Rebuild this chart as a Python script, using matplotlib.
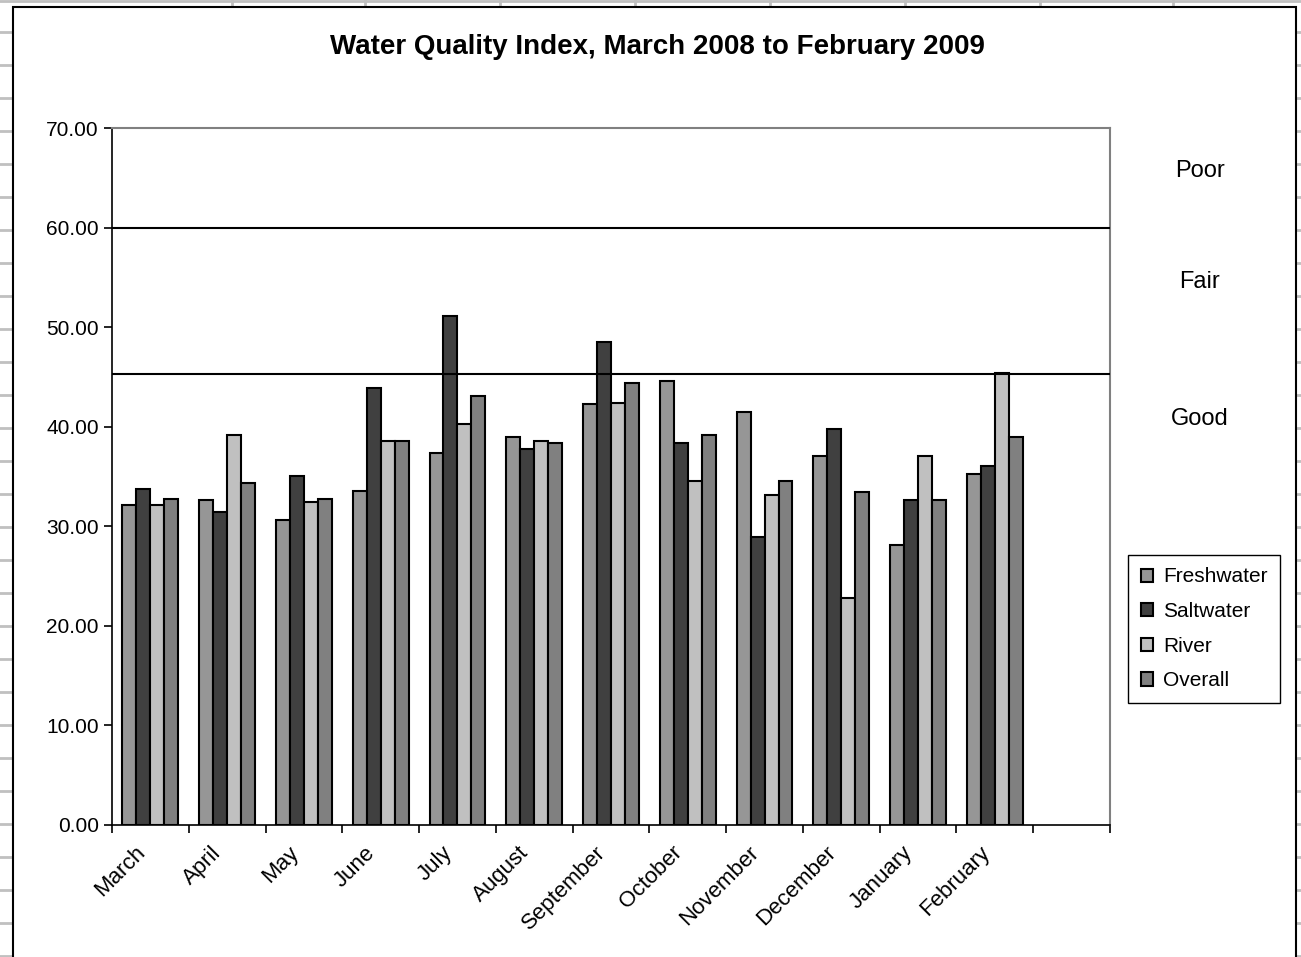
""" Water Quality Index, March 2008 to February 2009 - grouped bar chart """

import matplotlib
matplotlib.use("Agg")
import matplotlib.pyplot as plt
import matplotlib.transforms as mtransforms
from matplotlib.lines import Line2D
from matplotlib.patches import Rectangle
import numpy

plt.rcParams['font.family'] = ['Liberation Sans', 'DejaVu Sans']

months = ['March', 'April', 'May', 'June', 'July', 'August', 'September',
          'October', 'November', 'December', 'January', 'February']
freshwater = [32.1, 32.6, 30.6, 33.5, 37.4, 39.0, 42.3, 44.6, 41.5, 37.1, 28.1, 35.3]
saltwater = [33.7, 31.4, 35.1, 43.9, 51.1, 37.8, 48.5, 38.4, 28.9, 39.8, 32.6, 36.1]
river = [32.1, 39.2, 32.4, 38.6, 40.3, 38.6, 42.4, 34.5, 33.1, 22.8, 37.1, 45.4]
overall = [32.7, 34.3, 32.7, 38.6, 43.1, 38.4, 44.4, 39.2, 34.5, 33.4, 32.6, 39.0]
series_names = ['Freshwater', 'Saltwater', 'River', 'Overall']
series_colors = ['#969696', '#404040', '#c0c0c0', '#808080']
thresholds = [60.0, 45.3]
zones = ['Poor', 'Fair', 'Good']
zone_levels = [65.7, 54.5, 40.8]

W, H = 1301, 957


def fx(px):
    return px / W


def fy(py):
    return 1 - py / H


fig = plt.figure(figsize=(13.01, 9.57), dpi=100)

# spreadsheet grid peeking out around the chart area
grid_col = '#c0c0c0'
for y in range(32, 957, 33):
    fig.add_artist(Line2D([fx(0), fx(13)], [fy(y), fy(y)], color=grid_col, lw=2, zorder=-20))
    fig.add_artist(Line2D([fx(1296), fx(1301)], [fy(y), fy(y)], color=grid_col, lw=2, zorder=-20))
for x in [232, 365, 500, 635, 770, 905, 1040, 1173]:
    fig.add_artist(Line2D([fx(x), fx(x)], [fy(0), fy(7)], color=grid_col, lw=2, zorder=-20))
fig.add_artist(Line2D([fx(0), fx(1301)], [fy(1), fy(1)], color=grid_col, lw=2, zorder=-20))
fig.add_artist(Rectangle((fx(13), fy(960)), fx(1296) - fx(13), fy(7) - fy(960),
                         transform=fig.transFigure, facecolor='white',
                         edgecolor='black', lw=1.5, zorder=-10))

ax = fig.add_axes([fx(112), fy(825), fx(1110) - fx(112), fy(128) - fy(825)])

x = numpy.arange(len(months))
width = 0.182
all_series = [freshwater, saltwater, river, overall]
bars = []
for k in range(4):
    b = ax.bar(x + (k - 1.5) * width, all_series[k], width,
               color=series_colors[k], edgecolor='black', linewidth=1.5,
               label=series_names[k], zorder=2)
    bars.append(b)

for t in thresholds:
    ax.axhline(t, color='black', lw=1.5, zorder=3)

ax.set_xlim(-0.5, 12.5)
ax.set_ylim(0, 70)
ax.set_yticks(numpy.arange(0, 71, 10))
ax.set_yticklabels(['%.2f' % v for v in numpy.arange(0, 71, 10)], fontsize=15)
ax.set_xticks(numpy.arange(-0.5, 13, 1))
ax.set_xticklabels([])
ax.set_xticks(x, minor=True)
ax.set_xticklabels(months, minor=True, rotation=45, ha='right', va='top',
                   rotation_mode='anchor', fontsize=16)
ax.tick_params(axis='x', which='minor', length=0, pad=8)
ax.tick_params(axis='both', which='major', length=6, width=1.2, direction='out')
offset = mtransforms.ScaledTranslation(-16 / 100, -6 / 100, fig.dpi_scale_trans)
for lbl in ax.xaxis.get_minorticklabels():
    lbl.set_transform(lbl.get_transform() + offset)

for side in ['top', 'right']:
    ax.spines[side].set_color('#808080')
    ax.spines[side].set_linewidth(1.5)
for side in ['left', 'bottom']:
    ax.spines[side].set_color('black')
    ax.spines[side].set_linewidth(1.2)

for name, lev in zip(zones, zone_levels):
    ax.text(1.09, lev, name, transform=ax.get_yaxis_transform(), fontsize=17,
            ha='center', va='center', clip_on=False)

fig.text(fx(657), fy(47), 'Water Quality Index, March 2008 to February 2009',
         ha='center', va='center', fontsize=20, fontweight='bold')

leg = fig.legend(handles=bars, labels=series_names, loc='upper left',
                 bbox_to_anchor=(fx(1128), fy(555)), fontsize=15,
                 fancybox=False, framealpha=1, edgecolor='black',
                 handlelength=0.6, handleheight=0.6, handletextpad=0.5,
                 labelspacing=0.75, borderpad=0.6, borderaxespad=0)
leg.get_frame().set_linewidth(1.0)

fig.savefig('out.png', dpi=100)
